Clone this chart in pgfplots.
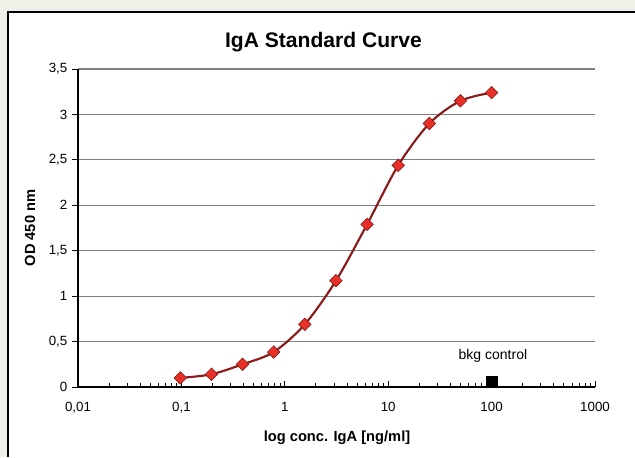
\documentclass[border=0pt]{standalone}
\usepackage{fontspec}
\setmainfont{Liberation Sans}
\usepackage{pgfplots}
\pgfplotsset{compat=1.18}
\definecolor{bgbeige}{RGB}{240,239,232}
\definecolor{curveline}{RGB}{139,26,26}
\definecolor{markred}{RGB}{232,48,40}
\definecolor{gridgray}{RGB}{128,128,128}

\begin{document}
\begin{tikzpicture}
% 1 px of the reference = 0.75pt
\useasboundingbox (0,0) rectangle (476.25pt,-342.75pt);
\fill[bgbeige] (0,0) rectangle (476.25pt,-342.75pt);
\fill[white] (6pt,-9pt) rectangle (476.25pt,-342.75pt);
\draw[black, line width=1.2pt] (6pt,-342.75pt) -- (6pt,-9pt) -- (476.25pt,-9pt);

\begin{axis}[
  at={(58.5pt,-290.25pt)}, anchor=south west,
  scale only axis, width=387.75pt, height=238.5pt,
  xmode=log, xmin=0.01, xmax=1000, ymin=0, ymax=3.5,
  axis x line*=bottom, axis y line*=left,
  axis line style={black, line width=0.8pt},
  xtick={0.01,0.1,1,10,100,1000},
  xticklabels={{0,01},{0,1},1,10,100,1000},
  minor xtick={0.02,0.03,0.04,0.05,0.06,0.07,0.08,0.09,
               0.2,0.3,0.4,0.5,0.6,0.7,0.8,0.9,
               2,3,4,5,6,7,8,9,20,30,40,50,60,70,80,90,
               200,300,400,500,600,700,800,900},
  ytick={0,0.5,1,1.5,2,2.5,3,3.5},
  xtick align=inside, ytick align=outside,
  major tick length=4.5pt, minor tick length=3pt,
  tick style={black, line width=0.7pt},
  ymajorgrids, major grid style={gridgray, line width=0.9pt},
  tick label style={font=\fontsize{10}{12}\selectfont, black},
  /pgf/number format/assume math mode=true,
  yticklabel style={/pgf/number format/use comma, /pgf/number format/fixed},
  xticklabel style={yshift=-8pt},
  clip=false,
]
\addplot[curveline, line width=1.6pt, smooth, tension=0.5,
  mark=square*, mark size=3.3pt,
  mark options={rotate=45, fill=markred, draw=curveline, line width=0.5pt}]
  coordinates {
  (0.09765625,0.10) (0.1953125,0.14) (0.390625,0.25) (0.78125,0.385)
  (1.5625,0.69) (3.125,1.17) (6.25,1.79) (12.5,2.44)
  (25,2.90) (50,3.15) (100,3.24)
};
\addplot[only marks, mark=square*, mark size=3.9pt, black]
  coordinates {(100,0.06)};
\node[font=\fontsize{10.5}{12}\selectfont] at (axis cs:103,0.34) {bkg control};
\end{axis}

\node[font=\fontsize{15.8}{19}\selectfont\bfseries] at (242.6pt,-31.5pt) {IgA Standard Curve};
\node[font=\fontsize{11}{13}\selectfont\bfseries] at (252.75pt,-328.5pt) {log conc. IgA [ng/ml]};
\node[font=\fontsize{11}{13}\selectfont\bfseries, rotate=90] at (22.5pt,-171pt) {OD 450 nm};
\end{tikzpicture}
\end{document}
